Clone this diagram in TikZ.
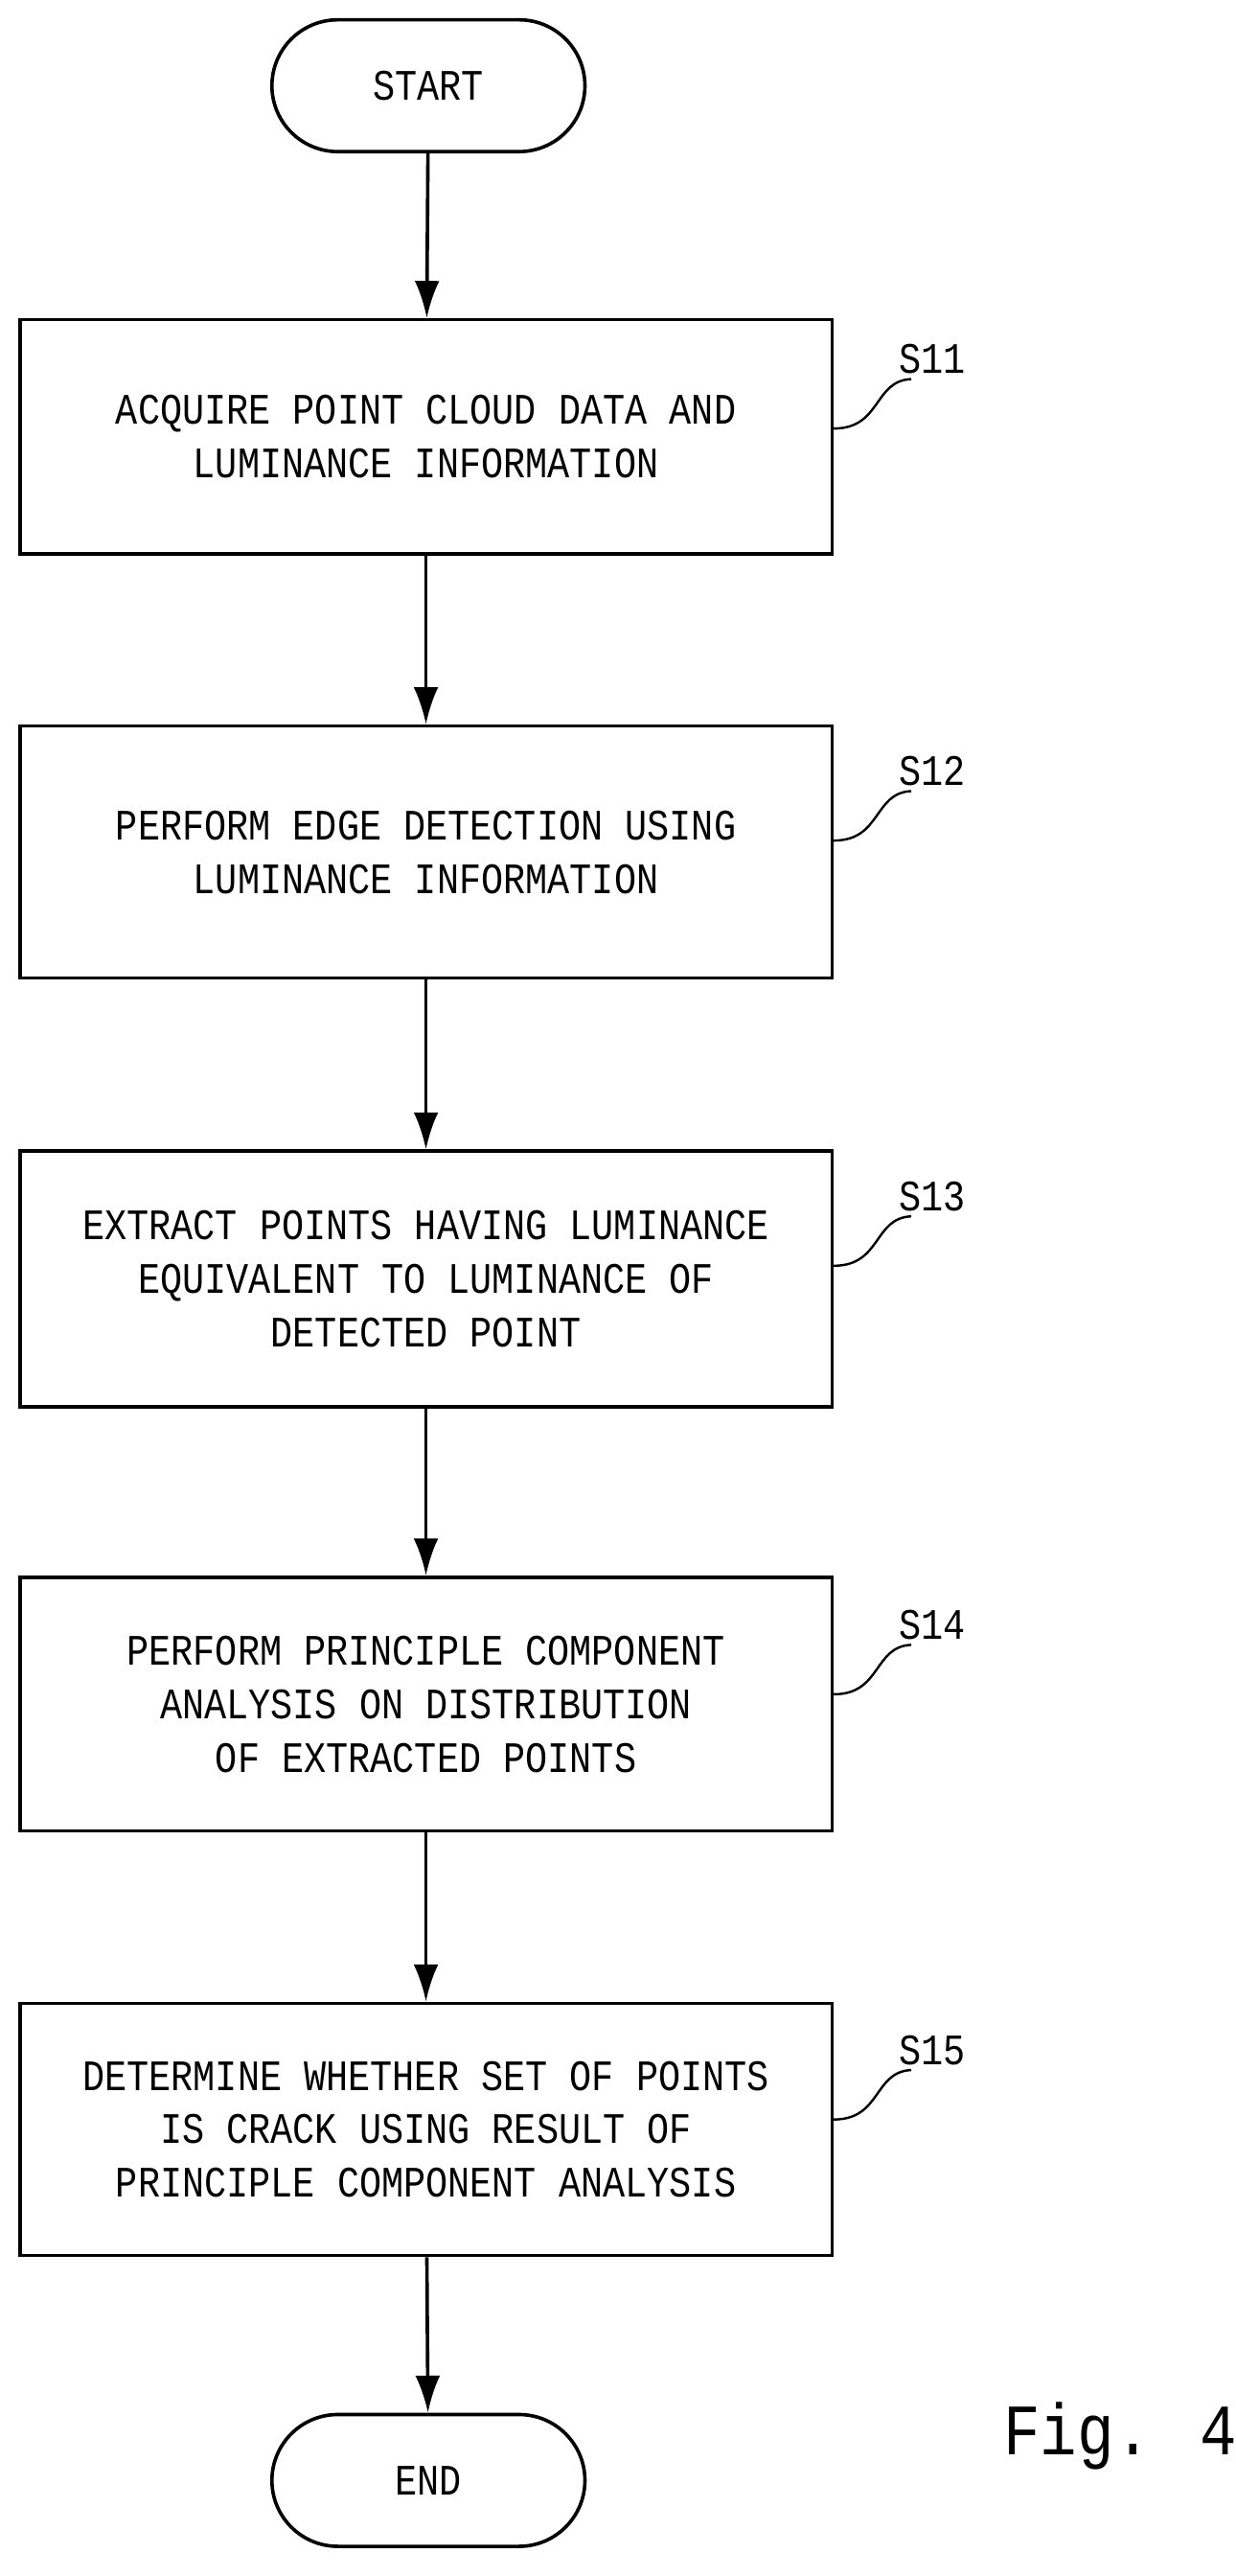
\documentclass[tikz,border=0pt]{standalone}
\usetikzlibrary{arrows.meta}
\usepackage{fontspec}
\setmainfont{Liberation Mono}[FakeStretch=0.85]
\begin{document}
\begin{tikzpicture}[x=0.02cm,y=-0.02cm,
  box/.style={draw,line width=1.2pt,minimum width=9.86cm,minimum height=2.95cm,align=center,font=\fontsize{15}{18.5}\selectfont},
  term/.style={draw,line width=1.2pt,rounded corners=0.8cm,minimum width=3.8cm,minimum height=1.6cm,font=\fontsize{15}{18}\selectfont},
  arr/.style={line width=1.2pt,-{Latex[length=0.45cm,width=0.3cm]}},
  lab/.style={font=\fontsize{15}{18}\selectfont},
  lead/.style={line width=0.8pt}]
\useasboundingbox (0,0) rectangle (750,1563);
\node[term] (start) at (260,52) {START};
\node[box,minimum height=2.84cm] (s11) at (258.5,265) {ACQUIRE POINT CLOUD DATA AND\\LUMINANCE INFORMATION};
\node[box,minimum height=3.06cm] (s12) at (258.5,517) {PERFORM EDGE DETECTION USING\\LUMINANCE INFORMATION};
\node[box,minimum height=3.1cm] (s13) at (258.5,776) {EXTRACT POINTS HAVING LUMINANCE\\EQUIVALENT TO LUMINANCE OF\\DETECTED POINT};
\node[box,minimum height=3.08cm] (s14) at (258.5,1034) {PERFORM PRINCIPLE COMPONENT\\ANALYSIS ON DISTRIBUTION\\OF EXTRACTED POINTS};
\node[box,minimum height=3.06cm] (s15) at (258.5,1292) {DETERMINE WHETHER SET OF POINTS\\IS CRACK USING RESULT OF\\PRINCIPLE COMPONENT ANALYSIS};
\node[term] (end) at (260,1505) {END};
\draw[arr] (start) -- (s11);
\draw[arr] (s11) -- (s12);
\draw[arr] (s12) -- (s13);
\draw[arr] (s13) -- (s14);
\draw[arr] (s14) -- (s15);
\draw[arr] (s15) -- (end);
\foreach \s/\n/\y in {s11/S11/218,s12/S12/468,s13/S13/726,s14/S14/986,s15/S15/1244}{
  \node[lab] (l\n) at (566,\y) {\n};
  \coordinate (c\n) at (553,\y+12);
  \draw[lead] (\s.east |- 0,\y+42) .. controls (535,\y+42) and (530,\y+13) .. (c\n);
}
\node[font=\fontsize{25}{30}\selectfont] (fig) at (680,1478) {Fig. 4};
\end{tikzpicture}
\end{document}
